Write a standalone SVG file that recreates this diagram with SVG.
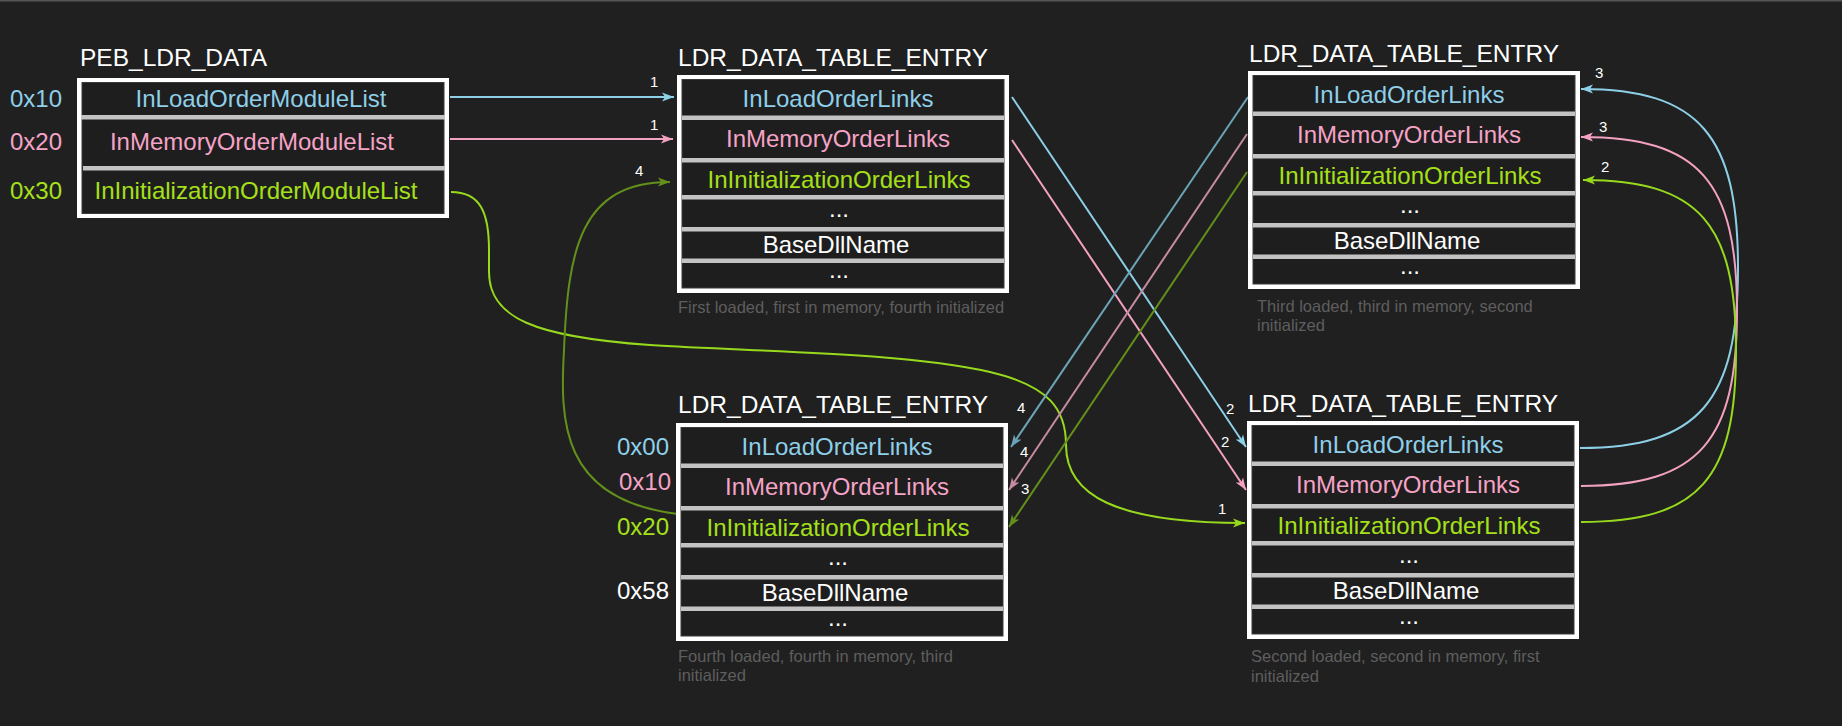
<svg xmlns="http://www.w3.org/2000/svg" xmlns:xlink="http://www.w3.org/1999/xlink" width="1842" height="726" viewBox="0 0 1842 726">
<style>
text{font-family:"Liberation Sans",Arial,sans-serif;}
.t{font-size:24.5px;fill:#ffffff;}
.f{font-size:24px;text-anchor:middle;}
.w{fill:#ffffff;}
.b{fill:#8ecfe9;}
.p{fill:#f5a3c6;}
.g{fill:#a6e01a;}
.o{font-size:24px;}
.cap{font-size:16.5px;fill:#5e5e5e;}
.n{font-size:15px;fill:#ffffff;}
.c{fill:none;stroke-width:2;}
.cb{stroke:#8ccfe6;}
.cp{stroke:#f2a1c0;}
.cg{stroke:#97d91d;}
.db{stroke:#6ba3b7;}
.dp{stroke:#c58ba2;}
.dg{stroke:#63901b;}
</style>
<defs>
<marker id="mb" markerUnits="userSpaceOnUse" markerWidth="13" markerHeight="10" refX="12" refY="5" orient="auto"><path d="M0,0.5 L12,5 L0,9.5 L3,5 Z" fill="#8ccfe6"/></marker>
<marker id="mp" markerUnits="userSpaceOnUse" markerWidth="13" markerHeight="10" refX="12" refY="5" orient="auto"><path d="M0,0.5 L12,5 L0,9.5 L3,5 Z" fill="#f2a1c0"/></marker>
<marker id="mg" markerUnits="userSpaceOnUse" markerWidth="13" markerHeight="10" refX="12" refY="5" orient="auto"><path d="M0,0.5 L12,5 L0,9.5 L3,5 Z" fill="#97d91d"/></marker>
<marker id="mdb" markerUnits="userSpaceOnUse" markerWidth="13" markerHeight="10" refX="12" refY="5" orient="auto"><path d="M0,0.5 L12,5 L0,9.5 L3,5 Z" fill="#6ba3b7"/></marker>
<marker id="mdp" markerUnits="userSpaceOnUse" markerWidth="13" markerHeight="10" refX="12" refY="5" orient="auto"><path d="M0,0.5 L12,5 L0,9.5 L3,5 Z" fill="#c58ba2"/></marker>
<marker id="mdg" markerUnits="userSpaceOnUse" markerWidth="13" markerHeight="10" refX="12" refY="5" orient="auto"><path d="M0,0.5 L12,5 L0,9.5 L3,5 Z" fill="#63901b"/></marker>
<g id="entryFrame">
<rect x="0" y="0" width="332" height="218" fill="#ffffff"/>
<rect x="5" y="4.5" width="322" height="208.5" fill="#1e1e1e" stroke="#3a3a3a" stroke-width="1"/>
<rect x="5" y="40.5" width="322" height="4.5" fill="#c3c3c3"/>
<rect x="5" y="83" width="322" height="4.5" fill="#c3c3c3"/>
<rect x="5" y="120" width="322" height="4.5" fill="#c3c3c3"/>
<rect x="5" y="152" width="322" height="4.5" fill="#c3c3c3"/>
<rect x="5" y="183.5" width="322" height="4.5" fill="#c3c3c3"/>
</g>
</defs>
<rect x="0" y="0" width="1842" height="726" fill="#202020"/>
<rect x="0" y="0" width="1842" height="1.5" fill="#555555"/>

<g id="connectors">
<path class="c cb" d="M450,97 L674,97" marker-end="url(#mb)"/>
<path class="c cp" d="M450,139 L673,139" marker-end="url(#mp)"/>
<path class="c cg" d="M451,192 C480,192 489,212 489,250 L489,272 C489,318 535,337 650,345 C760,352 900,352 990,372 C1050,386 1066,410 1066,445 C1066,495 1115,523 1245,523" marker-end="url(#mg)"/>
<path class="c dg" d="M678,514 C560,500 560,420 564,350 C568,250 580,182 670,182" marker-end="url(#mdg)"/>
<path class="c cb" d="M1012,97 L1246,447" marker-end="url(#mb)"/>
<path class="c cp" d="M1012,140 L1246,490" marker-end="url(#mp)"/>
<path class="c db" d="M1248,97 L1011,447" marker-end="url(#mdb)"/>
<path class="c dp" d="M1247,134 L1009,490" marker-end="url(#mdp)"/>
<path class="c dg" d="M1247,172 L1009,527" marker-end="url(#mdg)"/>
<path class="c cb" d="M1580,448 C1700,448 1738,400 1738,268 C1738,136 1700,89 1581,89" marker-end="url(#mb)"/>
<path class="c cp" d="M1581,486 C1700,486 1737,440 1737,311 C1737,182 1700,137 1581,137" marker-end="url(#mp)"/>
<path class="c cg" d="M1581,522 C1700,522 1736,478 1736,351 C1736,224 1700,180 1583,180" marker-end="url(#mg)"/>
<text class="n" x="650" y="87">1</text>
<text class="n" x="650" y="130">1</text>
<text class="n" x="635" y="176">4</text>
<text class="n" x="1226" y="414">2</text>
<text class="n" x="1221" y="447">2</text>
<text class="n" x="1218" y="514">1</text>
<text class="n" x="1017" y="413">4</text>
<text class="n" x="1020" y="457">4</text>
<text class="n" x="1021" y="494">3</text>
<text class="n" x="1595" y="78">3</text>
<text class="n" x="1599" y="132">3</text>
<text class="n" x="1601" y="172">2</text>
</g>

<g id="peb" transform="translate(77,78)">
<text class="t" x="3" y="-12">PEB_LDR_DATA</text>
<rect x="0" y="0" width="372" height="140" fill="#ffffff"/>
<rect x="5" y="4.5" width="362" height="131" fill="#1e1e1e" stroke="#3a3a3a" stroke-width="1"/>
<rect x="4" y="37" width="364" height="4.5" fill="#c3c3c3"/>
<rect x="6" y="88" width="362" height="4.5" fill="#c3c3c3"/>
<text class="f b" x="184" y="29">InLoadOrderModuleList</text>
<text class="f p" x="175" y="72">InMemoryOrderModuleList</text>
<text class="f g" x="179" y="121">InInitializationOrderModuleList</text>
<text class="o b" x="-67" y="29">0x10</text>
<text class="o p" x="-67" y="72">0x20</text>
<text class="o g" x="-67" y="121">0x30</text>
</g>

<g id="entry1" transform="translate(677,75)">
<text class="t" x="1" y="-9">LDR_DATA_TABLE_ENTRY</text>
<use xlink:href="#entryFrame" href="#entryFrame"/>
<text class="f b" x="161" y="32">InLoadOrderLinks</text>
<text class="f p" x="161" y="72">InMemoryOrderLinks</text>
<text class="f g" x="162" y="113">InInitializationOrderLinks</text>
<text class="f w" x="162" y="142">...</text>
<text class="f w" x="159" y="178">BaseDllName</text>
<text class="f w" x="162" y="203">...</text>
<text class="cap" x="1" y="238">First loaded, first in memory, fourth initialized</text>
</g>

<g id="entry3" transform="translate(1248,71)">
<text class="t" x="1" y="-9">LDR_DATA_TABLE_ENTRY</text>
<use xlink:href="#entryFrame" href="#entryFrame"/>
<text class="f b" x="161" y="32">InLoadOrderLinks</text>
<text class="f p" x="161" y="72">InMemoryOrderLinks</text>
<text class="f g" x="162" y="113">InInitializationOrderLinks</text>
<text class="f w" x="162" y="142">...</text>
<text class="f w" x="159" y="178">BaseDllName</text>
<text class="f w" x="162" y="203">...</text>
<text class="cap" x="9" y="241">Third loaded, third in memory, second<tspan x="9" y="260">initialized</tspan></text>
</g>

<g id="entry2" transform="translate(676,423)">
<text class="t" x="2" y="-10">LDR_DATA_TABLE_ENTRY</text>
<use xlink:href="#entryFrame" href="#entryFrame"/>
<text class="f b" x="161" y="32">InLoadOrderLinks</text>
<text class="f p" x="161" y="72">InMemoryOrderLinks</text>
<text class="f g" x="162" y="113">InInitializationOrderLinks</text>
<text class="f w" x="162" y="142">...</text>
<text class="f w" x="159" y="178">BaseDllName</text>
<text class="f w" x="162" y="203">...</text>
<text class="o b" x="-59" y="32">0x00</text>
<text class="o p" x="-57" y="67">0x10</text>
<text class="o g" x="-59" y="112">0x20</text>
<text class="o w" x="-59" y="176">0x58</text>
<text class="cap" x="2" y="239">Fourth loaded, fourth in memory, third<tspan x="2" y="258">initialized</tspan></text>
</g>

<g id="entry4" transform="translate(1247,421)">
<text class="t" x="1" y="-9">LDR_DATA_TABLE_ENTRY</text>
<use xlink:href="#entryFrame" href="#entryFrame"/>
<text class="f b" x="161" y="32">InLoadOrderLinks</text>
<text class="f p" x="161" y="72">InMemoryOrderLinks</text>
<text class="f g" x="162" y="113">InInitializationOrderLinks</text>
<text class="f w" x="162" y="142">...</text>
<text class="f w" x="159" y="178">BaseDllName</text>
<text class="f w" x="162" y="203">...</text>
<text class="cap" x="4" y="241">Second loaded, second in memory, first<tspan x="4" y="261">initialized</tspan></text>
</g>
</svg>
